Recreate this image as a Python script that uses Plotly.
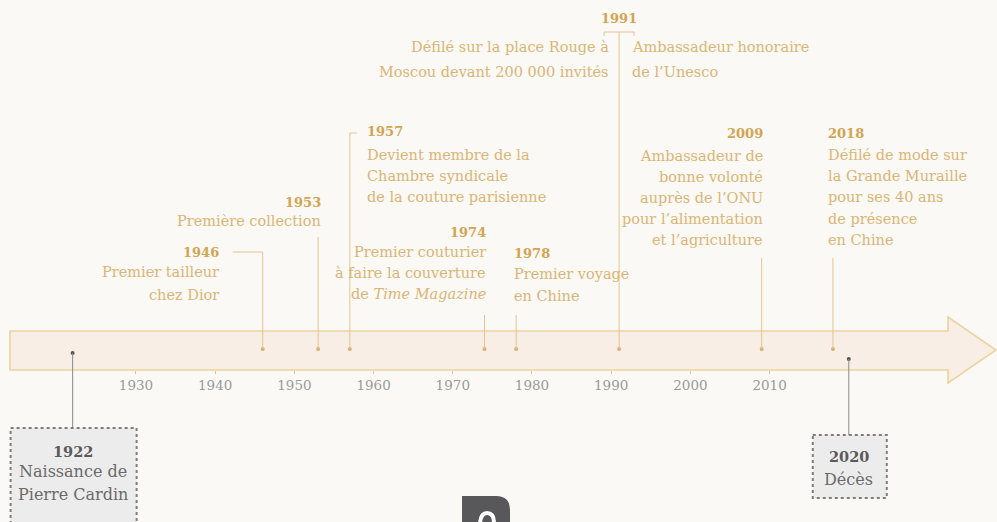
import plotly.graph_objects as go

# ---------------- data ----------------
event_years = [1946, 1953, 1957, 1974, 1978, 1991, 2009, 2018]
event_lines = [
    ["Premier tailleur", "chez Dior"],
    ["Première collection"],
    ["Devient membre de la", "Chambre syndicale", "de la couture parisienne"],
    ["Premier couturier", "à faire la couverture", "de <i>Time Magazine</i>"],
    ["Premier voyage", "en Chine"],
    ["Ambassadeur honoraire", "de l’Unesco"],
    ["Ambassadeur de", "bonne volonté", "auprès de l’ONU", "pour l’alimentation", "et l’agriculture"],
    ["Défilé de mode sur", "la Grande Muraille", "pour ses 40 ans", "de présence", "en Chine"],
]
extra_1991_lines = ["Défilé sur la place Rouge à", "Moscou devant 200 000 invités"]

life_years = [1922, 2020]
life_lines = [["Naissance de", "Pierre Cardin"], ["Décès"]]

tick_years = [1930, 1940, 1950, 1960, 1970, 1980, 1990, 2000, 2010]
tick_labels = [str(y) for y in tick_years]

# ---------------- layout parameters (positions / styles) ----------------
W, H = 997, 522
X_RANGE = [1912.83, 1912.83 + W / 7.92]
DOT_Y = 349
GOLD_T = "#d3a452"
GOLD_B = "#dbb574"
GOLD_L = "#e2c48f"
GREY_T = "#9a9a9a"
FONT = "DejaVu Serif"
BODY_SIZE = 14.5

title_anchor = ["right", "right", "left", "right", "left", "center", "right", "left"]
title_xshift = [-42, 5, 15, 4, -4, 0, 3, -7]
title_y = [252, 202, 131, 232, 253, 18, 133, 133]
text_anchor = ["right", "right", "left", "right", "left", "left", "right", "left"]
text_xshift = [-42, 5, 15, 4, -4, 11, 3, -7]
text_y0 = [272, 221, 155, 252, 274, 47, 156, 155]
text_step = [22.5, 21, 21, 21, 22, 25, 21, 21.2]
stem_top = [252, 237, 133, 315, 315, 32, 258, 258]

life_dot_y = [353, 359]
life_box_top = [428, 435]
life_box_bottom = [530, 498]
life_box_x = [(-62, 64), (-36, 38)]
life_title_y = [451, 456]
life_text_y0 = [471, 479]

fig = go.Figure()


def px(x):
    return x / W


arrow = (f"M {px(10)},331 L {px(948)},331 L {px(948)},317 L {px(996)},350 "
         f"L {px(948)},383 L {px(948)},370 L {px(10)},370 Z")
shapes = [dict(type="path", path=arrow, xref="paper", yref="y",
               fillcolor="#f8eee6", line=dict(color="#ecd39f", width=1.6), layer="below")]

annotations = []

for i, yr in enumerate(event_years):
    shapes.append(dict(type="line", xref="x", yref="y", x0=yr, x1=yr,
                       y0=stem_top[i], y1=DOT_Y, line=dict(color=GOLD_L, width=1)))
    annotations.append(dict(x=yr, y=title_y[i], xref="x", yref="y", text=f"<b>{yr}</b>",
                            showarrow=False, xanchor=title_anchor[i], yanchor="middle",
                            xshift=title_xshift[i],
                            font=dict(family=FONT, size=13, color=GOLD_T)))
    for j, line in enumerate(event_lines[i]):
        annotations.append(dict(x=yr, y=text_y0[i] + j * text_step[i], xref="x", yref="y",
                                text=line, showarrow=False, xanchor=text_anchor[i],
                                yanchor="middle", xshift=text_xshift[i],
                                font=dict(family=FONT, size=BODY_SIZE, color=GOLD_B)))

for j, line in enumerate(extra_1991_lines):
    annotations.append(dict(x=1991, y=47 + j * 25, xref="x", yref="y", text=line,
                            showarrow=False, xanchor="right", yanchor="middle", xshift=-8,
                            font=dict(family=FONT, size=BODY_SIZE, color=GOLD_B)))

# connectors
shapes.append(dict(type="line", xref="x", yref="y", xsizemode="pixel", xanchor=1946,
                   x0=-30, x1=0, y0=252, y1=252, line=dict(color=GOLD_L, width=1)))
shapes.append(dict(type="line", xref="x", yref="y", xsizemode="pixel", xanchor=1957,
                   x0=0, x1=7, y0=133, y1=133, line=dict(color=GOLD_L, width=1)))
shapes.append(dict(type="path", xref="x", yref="y", xsizemode="pixel", xanchor=1991,
                   path="M -15,36 L -15,32 L 15,32 L 15,36", line=dict(color=GOLD_L, width=1)))

fig.add_trace(go.Scatter(x=event_years, y=[DOT_Y] * len(event_years), mode="markers",
                         marker=dict(size=4, color="#d6b06e"), hoverinfo="skip"))

for i, yr in enumerate(life_years):
    shapes.append(dict(type="line", xref="x", yref="y", x0=yr, x1=yr,
                       y0=life_dot_y[i], y1=life_box_top[i], line=dict(color="#8a8a8a", width=1)))
    shapes.append(dict(type="rect", xref="x", yref="y", xsizemode="pixel", xanchor=yr,
                       x0=life_box_x[i][0], x1=life_box_x[i][1],
                       y0=life_box_top[i], y1=life_box_bottom[i],
                       fillcolor="#ececec", line=dict(color="#7d7d7d", width=2, dash="dot")))
    annotations.append(dict(x=yr, y=life_title_y[i], xref="x", yref="y", text=f"<b>{yr}</b>",
                            showarrow=False, xanchor="center", yanchor="middle",
                            font=dict(family=FONT, size=14.5, color="#5a5a5a")))
    for j, line in enumerate(life_lines[i]):
        annotations.append(dict(x=yr, y=life_text_y0[i] + j * 23, xref="x", yref="y",
                                text=line, showarrow=False, xanchor="center", yanchor="middle",
                                font=dict(family=FONT, size=16, color="#6a6a6a")))

fig.add_trace(go.Scatter(x=life_years, y=life_dot_y, mode="markers",
                         marker=dict(size=4, color="#555555"), hoverinfo="skip"))

# bottom logo fragment (decoration)
shapes.append(dict(type="path", xref="paper", yref="y",
                   path=f"M {px(462)},523 L {px(462)},496 L {px(496)},496 Q {px(510)},496 {px(510)},510 L {px(510)},523 Z",
                   fillcolor="#58585a", line=dict(width=0)))
shapes.append(dict(type="path", xref="paper", yref="y",
                   path=f"M {px(480)},523 Q {px(481)},513 {px(487)},513 Q {px(494)},513 {px(494)},523",
                   line=dict(color="white", width=4)))

fig.update_layout(
    width=W, height=H,
    margin=dict(l=0, r=0, t=0, b=0),
    paper_bgcolor="#faf9f6", plot_bgcolor="rgba(0,0,0,0)",
    showlegend=False, hovermode=False,
    shapes=shapes, annotations=annotations,
    xaxis=dict(range=X_RANGE, anchor="free", position=1 - 370 / H,
               tickvals=tick_years, ticktext=tick_labels,
               ticks="outside", ticklen=3, tickcolor=GOLD_L, tickwidth=1,
               showgrid=False, zeroline=False, showline=False,
               tickfont=dict(family=FONT, size=13.5, color=GREY_T)),
    yaxis=dict(range=[H, 0], visible=False, domain=[0, 1]),
)

fig.write_html("out.html", config={"displayModeBar": False},
               post_script="document.body.style.margin='0';document.body.style.background='#faf9f6';")
